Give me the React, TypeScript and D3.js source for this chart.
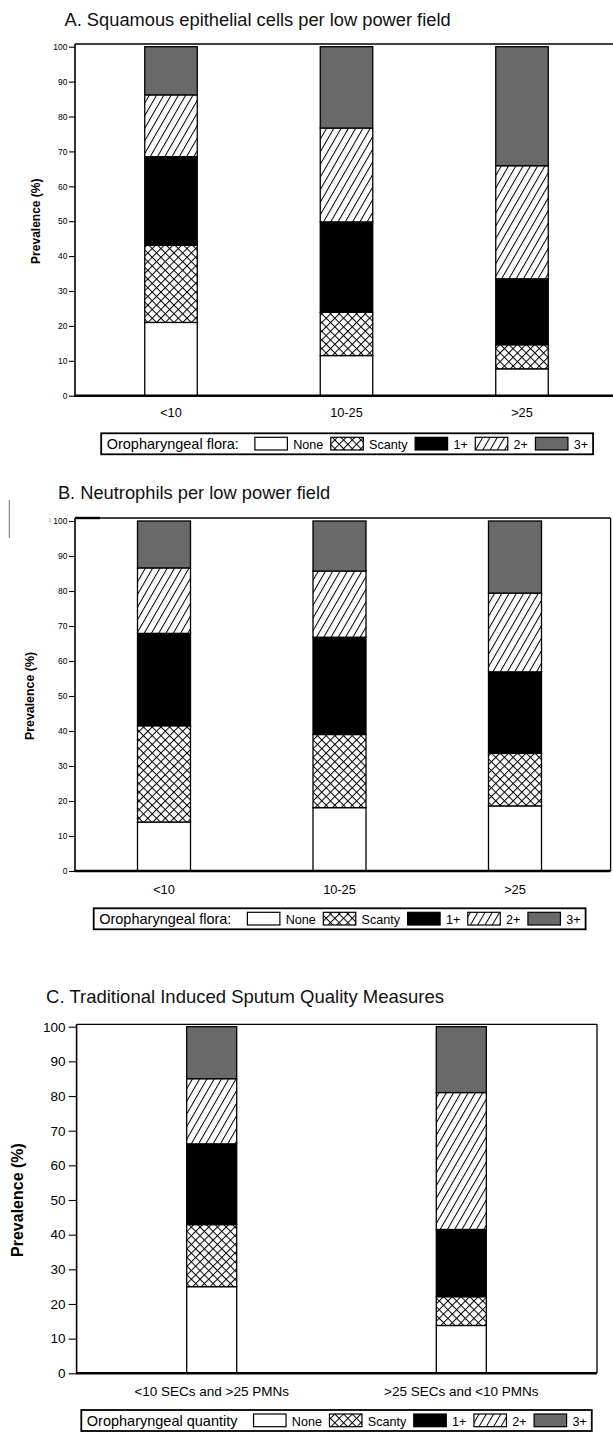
import * as d3 from 'd3';
import { useEffect, useRef } from 'react';

const floraLevels = ['None', 'Scanty', '1+', '2+', '3+'];
const percentTicks = [0, 10, 20, 30, 40, 50, 60, 70, 80, 90, 100];

// A. squamous epithelial cells per low power field (% of samples per flora grade)
const secCategories = ['<10', '10-25', '>25'];
const secNone = [21.0, 11.5, 7.7];
const secScanty = [22.1, 12.4, 6.9];
const secOnePlus = [25.4, 25.9, 18.9];
const secTwoPlus = [17.7, 26.9, 32.4];
const secThreePlus = [13.8, 23.3, 34.1];

// B. neutrophils per low power field
const pmnCategories = ['<10', '10-25', '>25'];
const pmnNone = [14.0, 18.1, 18.6];
const pmnScanty = [27.5, 20.9, 15.0];
const pmnOnePlus = [26.4, 27.8, 23.3];
const pmnTwoPlus = [18.7, 18.9, 22.5];
const pmnThreePlus = [13.4, 14.3, 20.6];

// C. traditional quality measures
const qualityCategories = ['<10 SECs and >25 PMNs', '>25 SECs and <10 PMNs'];
const qualityNone = [25.0, 13.8];
const qualityScanty = [17.9, 8.3];
const qualityOnePlus = [23.3, 19.4];
const qualityTwoPlus = [18.8, 39.5];
const qualityThreePlus = [15.0, 19.0];

const FONT = '"Liberation Sans", Arial, sans-serif';

const levelFill: Record<string, string> = {
  None: '#ffffff',
  Scanty: 'url(#hatch-cross)',
  '1+': '#000000',
  '2+': 'url(#hatch-diag)',
  '3+': '#696969',
};

type Panel = {
  title: string;
  titleX: number;
  titleY: number;
  titleSize: number;
  categories: string[];
  values: number[][];
  legendLabel: string;
  frame: { left: number; top: number; right: number; bottom: number };
  y100: number;
  firstCenter: number;
  lastCenter: number;
  barWidth: number;
  tickSize: number;
  tickPad: number;
  tickFont: number;
  xLabelFont: number;
  xLabelY: number;
  yLabelX: number;
  yLabelFont: number;
  legendX: number;
  legendTop: number;
};

const panels: Panel[] = [
  {
    title: 'A. Squamous epithelial cells per low power field',
    titleX: 64.5,
    titleY: 26,
    titleSize: 18.3,
    categories: secCategories,
    values: [secNone, secScanty, secOnePlus, secTwoPlus, secThreePlus],
    legendLabel: 'Oropharyngeal flora:',
    frame: { left: 75, top: 44, right: 614, bottom: 395.7 },
    y100: 46.7,
    firstCenter: 171,
    lastCenter: 522,
    barWidth: 52.5,
    tickSize: 6,
    tickPad: 1.5,
    tickFont: 8.5,
    xLabelFont: 12.8,
    xLabelY: 413,
    yLabelX: 36,
    yLabelFont: 12,
    legendX: 106.7,
    legendTop: 433.3,
  },
  {
    title: 'B. Neutrophils per low power field',
    titleX: 57.9,
    titleY: 499.3,
    titleSize: 18.3,
    categories: pmnCategories,
    values: [pmnNone, pmnScanty, pmnOnePlus, pmnTwoPlus, pmnThreePlus],
    legendLabel: 'Oropharyngeal flora:',
    frame: { left: 75, top: 518, right: 610.6, bottom: 871 },
    y100: 521,
    firstCenter: 164,
    lastCenter: 515,
    barWidth: 53,
    tickSize: 6,
    tickPad: 1.5,
    tickFont: 8.5,
    xLabelFont: 12.8,
    xLabelY: 889.3,
    yLabelX: 29.3,
    yLabelFont: 12.4,
    legendX: 99.2,
    legendTop: 908.3,
  },
  {
    title: 'C. Traditional Induced Sputum Quality Measures',
    titleX: 46.1,
    titleY: 1003.3,
    titleSize: 18.5,
    categories: qualityCategories,
    values: [qualityNone, qualityScanty, qualityOnePlus, qualityTwoPlus, qualityThreePlus],
    legendLabel: 'Oropharyngeal quantity',
    frame: { left: 76.6, top: 1024.3, right: 597, bottom: 1373.3 },
    y100: 1026.7,
    firstCenter: 211.7,
    lastCenter: 461.3,
    barWidth: 50,
    tickSize: 8,
    tickPad: 3,
    tickFont: 13.5,
    xLabelFont: 13.5,
    xLabelY: 1391.7,
    yLabelX: 17.6,
    yLabelFont: 16,
    legendX: 86.8,
    legendTop: 1410,
  },
];

function App() {
  const svgRef = useRef<SVGSVGElement | null>(null);

  useEffect(() => {
    if (!svgRef.current) {
      return;
    }
    const svg = d3.select(svgRef.current);
    svg.selectAll('*').remove();

    const defs = svg.append('defs');
    const cross = defs
      .append('pattern')
      .attr('id', 'hatch-cross')
      .attr('patternUnits', 'userSpaceOnUse')
      .attr('width', 6.15)
      .attr('height', 6.15)
      .attr('patternTransform', 'rotate(45)');
    cross.append('rect').attr('width', 6.15).attr('height', 6.15).attr('fill', '#fff');
    cross.append('line').attr('x1', 0).attr('y1', 0.5).attr('x2', 6.15).attr('y2', 0.5).attr('stroke', '#000').attr('stroke-width', 1);
    cross.append('line').attr('x1', 0.5).attr('y1', 0).attr('x2', 0.5).attr('y2', 6.15).attr('stroke', '#000').attr('stroke-width', 1);

    const diag = defs
      .append('pattern')
      .attr('id', 'hatch-diag')
      .attr('patternUnits', 'userSpaceOnUse')
      .attr('width', 6.3)
      .attr('height', 6.3)
      .attr('patternTransform', 'rotate(30)');
    diag.append('rect').attr('width', 6.3).attr('height', 6.3).attr('fill', '#fff');
    diag.append('line').attr('x1', 0.5).attr('y1', 0).attr('x2', 0.5).attr('y2', 6.3).attr('stroke', '#000').attr('stroke-width', 1);

    panels.forEach((panel) => drawPanel(svg, panel));

    // stray marks left over in the source figure next to panel B
    svg.append('line').attr('x1', 9.3).attr('x2', 9.3).attr('y1', 500).attr('y2', 538).attr('stroke', '#8a8a8a').attr('stroke-width', 1.2);
    svg
      .append('text')
      .attr('x', 48.3)
      .attr('y', 522)
      .attr('font-family', FONT)
      .attr('font-size', 6)
      .attr('fill', '#999')
      .text('1');
    svg.append('line').attr('x1', 75).attr('x2', 100).attr('y1', 518).attr('y2', 518).attr('stroke', '#000').attr('stroke-width', 2.4);
  }, []);

  return (
    <svg
      ref={svgRef}
      width={613}
      height={1434}
      style={{ position: 'absolute', left: 0, top: 0, background: '#fff' }}
    />
  );
}

function drawPanel(svg: d3.Selection<SVGSVGElement, unknown, null, undefined>, panel: Panel) {
  const { frame } = panel;
  const g = svg.append('g');

  const y = d3.scaleLinear().domain([0, 100]).range([frame.bottom, panel.y100]);
  const x = d3.scalePoint<string>().domain(panel.categories).range([panel.firstCenter, panel.lastCenter]);

  const rows = panel.categories.map((category, i) => {
    const row: Record<string, number | string> = { category };
    floraLevels.forEach((level, j) => {
      row[level] = panel.values[j][i];
    });
    return row;
  });
  const stacked = d3.stack<Record<string, number | string>>().keys(floraLevels)(rows as never);

  g.append('text')
    .attr('x', panel.titleX)
    .attr('y', panel.titleY)
    .attr('font-family', FONT)
    .attr('font-size', panel.titleSize)
    .attr('fill', '#111')
    .text(panel.title);

  // frame: thin top/right, heavier left axis and base line
  g.append('line')
    .attr('x1', frame.left)
    .attr('x2', frame.right)
    .attr('y1', frame.top)
    .attr('y2', frame.top)
    .attr('stroke', '#000')
    .attr('stroke-width', 1.3);
  g.append('line')
    .attr('x1', frame.right)
    .attr('x2', frame.right)
    .attr('y1', frame.top)
    .attr('y2', frame.bottom)
    .attr('stroke', '#000')
    .attr('stroke-width', 1.3);

  stacked.forEach((layer) => {
    g.append('g')
      .selectAll('rect')
      .data(layer)
      .join('rect')
      .attr('x', (d) => (x(String(d.data.category)) ?? 0) - panel.barWidth / 2)
      .attr('width', panel.barWidth)
      .attr('y', (d) => y(d[1]))
      .attr('height', (d) => y(d[0]) - y(d[1]))
      .attr('fill', levelFill[layer.key])
      .attr('stroke', '#000')
      .attr('stroke-width', 1.3);
  });

  g.append('line')
    .attr('x1', frame.left)
    .attr('x2', frame.left)
    .attr('y1', frame.top)
    .attr('y2', frame.bottom + 1)
    .attr('stroke', '#000')
    .attr('stroke-width', 1.6);
  g.append('line')
    .attr('x1', frame.left)
    .attr('x2', frame.right)
    .attr('y1', frame.bottom)
    .attr('y2', frame.bottom)
    .attr('stroke', '#000')
    .attr('stroke-width', 2.6);

  g.append('g')
    .attr('transform', `translate(${frame.left},0)`)
    .call(d3.axisLeft(y).tickValues(percentTicks).tickSize(panel.tickSize).tickPadding(panel.tickPad))
    .call((axis) => {
      axis.select('.domain').remove();
      axis.selectAll('line').attr('stroke', '#000').attr('stroke-width', 1.1);
      axis
        .selectAll('text')
        .attr('font-family', FONT)
        .attr('font-size', panel.tickFont)
        .attr('fill', '#000');
    });

  g.append('g')
    .selectAll('text')
    .data(panel.categories)
    .join('text')
    .attr('x', (d) => x(d) ?? 0)
    .attr('y', panel.xLabelY)
    .attr('dy', '0.35em')
    .attr('text-anchor', 'middle')
    .attr('font-family', FONT)
    .attr('font-size', panel.xLabelFont)
    .attr('fill', '#000')
    .text((d) => d);

  g.append('text')
    .attr('transform', `translate(${panel.yLabelX},${(frame.bottom + panel.y100) / 2}) rotate(-90)`)
    .attr('dy', '0.35em')
    .attr('text-anchor', 'middle')
    .attr('font-family', FONT)
    .attr('font-weight', 'bold')
    .attr('font-size', panel.yLabelFont)
    .attr('fill', '#000')
    .text('Prevalence (%)');

  drawLegend(g, panel);
}

function drawLegend(g: d3.Selection<SVGGElement, unknown, null, undefined>, panel: Panel) {
  const top = panel.legendTop;
  const baseline = top + 15.7;
  const legend = g.append('g');

  const label = legend
    .append('text')
    .attr('x', panel.legendX)
    .attr('y', baseline)
    .attr('font-family', FONT)
    .attr('font-size', 14.5)
    .attr('fill', '#000')
    .text(panel.legendLabel);

  let cursor = panel.legendX + (label.node()?.getComputedTextLength() ?? 0) + 16;

  floraLevels.forEach((level) => {
    legend
      .append('rect')
      .attr('x', cursor)
      .attr('y', top + 4)
      .attr('width', 32.5)
      .attr('height', 12.7)
      .attr('fill', levelFill[level])
      .attr('stroke', '#000')
      .attr('stroke-width', 1.2);
    cursor += 32.5 + 5.8;
    const text = legend
      .append('text')
      .attr('x', cursor)
      .attr('y', baseline)
      .attr('font-family', FONT)
      .attr('font-size', 12.6)
      .attr('fill', '#000')
      .text(level);
    cursor += (text.node()?.getComputedTextLength() ?? 0) + 7.5;
  });

  const left = panel.legendX - 5.5;
  legend
    .insert('rect', ':first-child')
    .attr('x', left)
    .attr('y', top)
    .attr('width', cursor - 7.5 + 5 - left)
    .attr('height', 21)
    .attr('fill', '#fff')
    .attr('stroke', '#000')
    .attr('stroke-width', 1.8);
}

export default App;
